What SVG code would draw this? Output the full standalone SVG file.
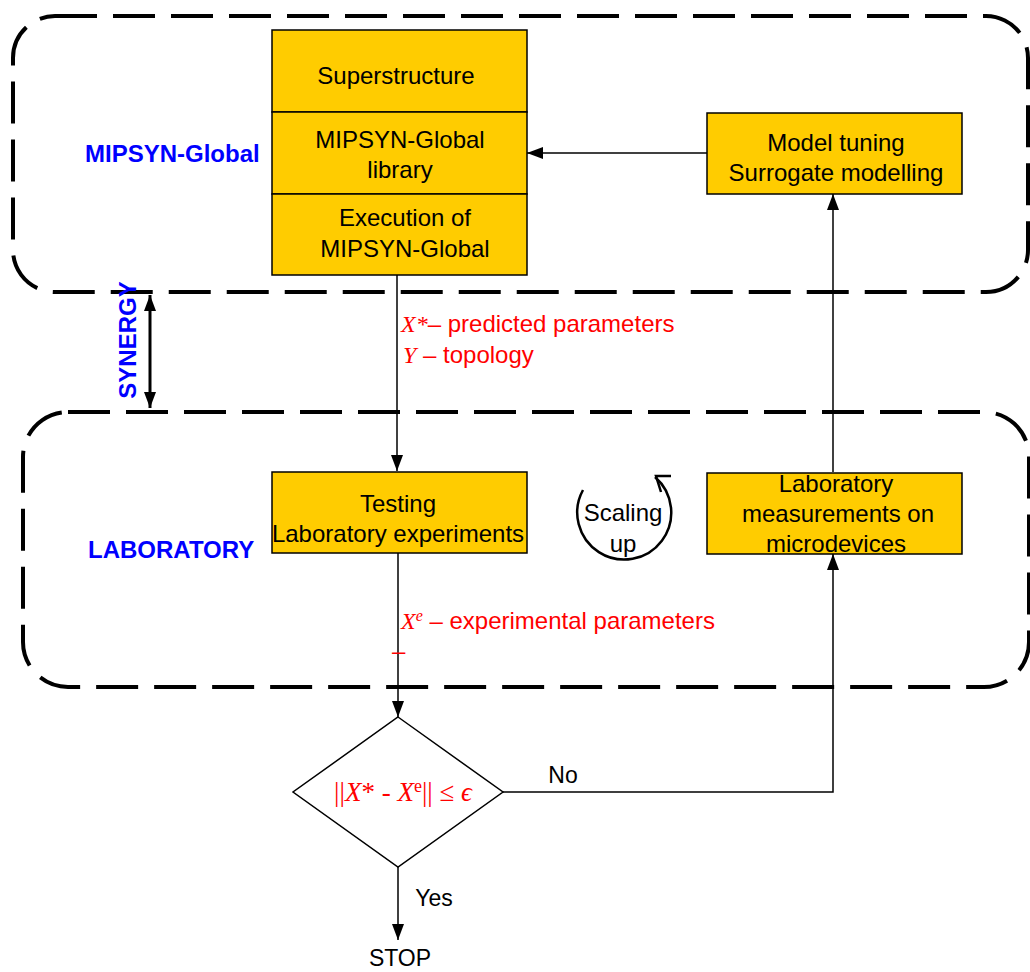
<svg xmlns="http://www.w3.org/2000/svg" width="1030" height="972" viewBox="0 0 1030 972">
<defs>
<marker id="ah" viewBox="0 0 16 12" refX="16" refY="6" markerWidth="16" markerHeight="12" markerUnits="userSpaceOnUse" orient="auto-start-reverse"><path d="M0,0 L16,6 L0,12 Z" fill="#000"/></marker>
<style>
.zone{fill:none;stroke:#000;stroke-width:4;stroke-dasharray:42 16}
.box{fill:#ffcc00;stroke:#000;stroke-width:1.5}
.t{font-family:"Liberation Sans",Arial,sans-serif;font-size:24px;fill:#000;text-anchor:middle}
.lbl{font-family:"Liberation Sans",Arial,sans-serif;font-size:24px;font-weight:bold;fill:#0000ff}
.red{font-family:"Liberation Sans",Arial,sans-serif;font-size:24px;fill:#ff0000}
.m{font-family:"Liberation Serif","Times New Roman",serif;font-style:italic}
.c{fill:none;stroke:#000;stroke-width:1.5}
</style>
</defs>
<g id="zones">
<rect class="zone" x="13" y="16" width="1015" height="276" rx="42"/>
<rect class="zone" x="23" y="412" width="1006" height="275" rx="45"/>
</g>
<g id="labels">
<text class="lbl" x="85" y="162">MIPSYN-Global</text>
<text class="lbl" x="88" y="558">LABORATORY</text>
<text class="lbl" transform="translate(136,340) rotate(-90)" text-anchor="middle">SYNERGY</text>
</g>
<g id="connectors">
<line class="c" x1="150" y1="295" x2="150" y2="408" marker-start="url(#ah)" marker-end="url(#ah)" style="stroke-width:3"/>
<line class="c" x1="397" y1="275" x2="397" y2="471" marker-end="url(#ah)"/>
<line class="c" x1="398" y1="553" x2="398" y2="717" marker-end="url(#ah)"/>
<line class="c" x1="398" y1="867" x2="398" y2="940" marker-end="url(#ah)"/>
<polyline class="c" points="503,792 833,792 833,554" marker-end="url(#ah)"/>
<line class="c" x1="833" y1="472" x2="833" y2="194" marker-end="url(#ah)"/>
<line class="c" x1="707" y1="153" x2="527" y2="153" marker-end="url(#ah)"/>
</g>
<g id="stack">
<rect class="box" x="272" y="30" width="255" height="82"/>
<rect class="box" x="272" y="112" width="255" height="82"/>
<rect class="box" x="272" y="194" width="255" height="81"/>
<text class="t" x="396" y="84">Superstructure</text>
<text class="t" x="400" y="148">MIPSYN-Global</text>
<text class="t" x="400" y="178">library</text>
<text class="t" x="405" y="226">Execution of</text>
<text class="t" x="405" y="257">MIPSYN-Global</text>
</g>
<g id="model">
<rect class="box" x="707" y="113" width="255" height="81"/>
<text class="t" x="836" y="151">Model tuning</text>
<text class="t" x="836" y="181">Surrogate modelling</text>
</g>
<g id="testing">
<rect class="box" x="272" y="472" width="255" height="81"/>
<text class="t" x="398" y="512">Testing</text>
<text class="t" x="398" y="542">Laboratory experiments</text>
</g>
<g id="lab">
<rect class="box" x="707" y="473" width="255" height="81"/>
<text class="t" x="836" y="492">Laboratory</text>
<text class="t" x="838" y="522">measurements on</text>
<text class="t" x="836" y="552">microdevices</text>
</g>
<g id="scaling">
<path d="M583,490 A47,47 0 1 0 655,477" fill="none" stroke="#000" stroke-width="2.5"/>
<polyline points="671,476 656,476 661,492" fill="none" stroke="#000" stroke-width="2.5"/>
<text class="t" x="623" y="521">Scaling</text>
<text class="t" x="623" y="552">up</text>
</g>
<g id="decision">
<polygon points="398,717 503,792 398,867 293,792" fill="#fff" stroke="#000" stroke-width="1.5"/>
<text x="403" y="801" text-anchor="middle" style="font-family:'Liberation Serif','Times New Roman',serif;font-size:27px;fill:#ff0000">||<tspan font-style="italic">X</tspan>* - <tspan font-style="italic">X</tspan><tspan font-size="18" dy="-9">e</tspan><tspan dy="9">|| ≤ </tspan><tspan font-style="italic">ϵ</tspan></text>
</g>
<g id="edge-labels">
<text class="red" x="401" y="332"><tspan class="m">X</tspan><tspan class="m" font-style="normal">*</tspan>– predicted parameters</text>
<text class="red" x="403" y="363"><tspan class="m">Y</tspan> – topology</text>
<text class="red" x="401" y="629"><tspan class="m">X</tspan><tspan class="m" font-style="normal" font-size="16" dy="-8">e</tspan><tspan dy="8"> – experimental parameters</tspan></text>
<text class="red" x="392" y="659">–</text>
<text class="t" x="563" y="783" style="font-size:23px">No</text>
<text class="t" x="434" y="906" style="font-size:23px">Yes</text>
<text class="t" x="400" y="966" style="font-size:23px">STOP</text>
</g>
</svg>
